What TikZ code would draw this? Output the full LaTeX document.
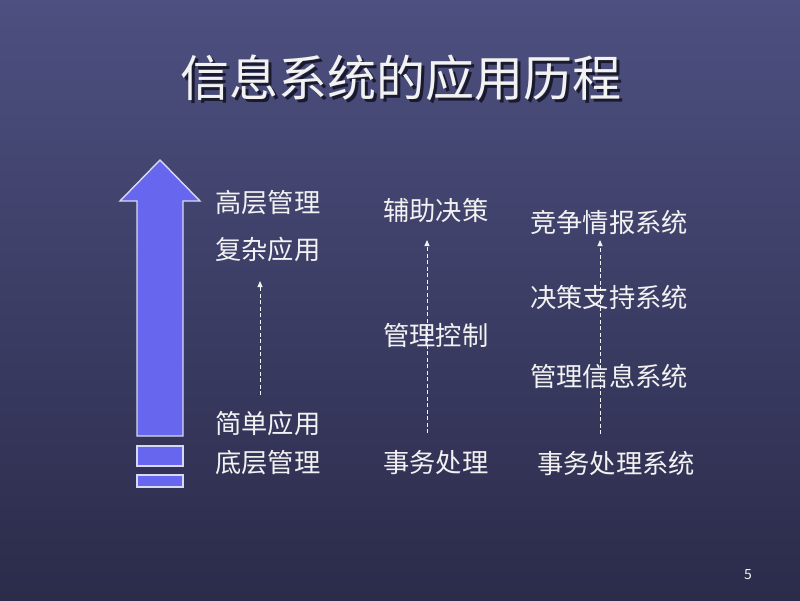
\documentclass[tikz,border=0pt]{standalone}
\usepackage{fontspec}
\setmainfont{Noto Sans CJK SC}
\newfontfamily\cjk{Noto Sans CJK SC}
\usetikzlibrary{arrows.meta}
\definecolor{bgtop}{HTML}{4D5080}
\definecolor{bgbot}{HTML}{2B2B4A}
\definecolor{arrowfill}{HTML}{6666EE}
\definecolor{arrowline}{HTML}{D8D8F0}
\definecolor{txt}{HTML}{F2F2F2}
\definecolor{shadowc}{HTML}{1A1A2E}
\tikzset{
  lbl/.style={anchor=west, inner sep=0pt, text=txt, font=\cjk\fontsize{26.3}{26.3}\selectfont},
  ttl/.style={inner sep=0pt, font=\cjk\fontsize{49}{49}\selectfont},
  dasharrow/.style={draw=txt, line width=0.9pt, dash pattern=on 4pt off 2.5pt, -{Triangle[length=6pt,width=5pt]}},
  bigarrow/.style={fill=arrowfill, draw=arrowline, line width=1.4pt},
}
\newcommand{\shadowtitle}[1]{\makebox[0pt][l]{\hspace{3pt}\raisebox{-3pt}{\color{shadowc}#1}}{\color{txt}#1}}
\begin{document}
\begin{tikzpicture}[x=1pt,y=-1pt]
\useasboundingbox (0,0) rectangle (800,600);
\shade[top color=bgtop, bottom color=bgbot] (0,0) rectangle (800,600);
% title
\node[ttl] (title) at (401,79) {\shadowtitle{信息系统的应用历程}};
% big arrow
\draw[bigarrow] (160,160) -- (200,201) -- (183,201) -- (183,436) -- (137,436) -- (137,201) -- (120,201) -- cycle;
\draw[bigarrow] (137,446) rectangle (183,466);
\draw[bigarrow] (137,475) rectangle (183,487);
% column 1
\node[lbl] (c1a) at (215,203) {高层管理};
\node[lbl] (c1b) at (215,249) {复杂应用};
\node[lbl] (c1c) at (215,423) {简单应用};
\node[lbl] (c1d) at (215,463) {底层管理};
\coordinate (c1s) at (260,395);
\coordinate (c1e) at (260,281);
\draw[dasharrow] (c1s) -- (c1e);
% column 2
\node[lbl] (c2a) at (383,210) {辅助决策};
\node[lbl] (c2b) at (383,335) {管理控制};
\node[lbl] (c2c) at (383,463) {事务处理};
\coordinate (c2s) at (427,433);
\coordinate (c2e) at (427,240);
\draw[dasharrow] (c2s) -- (c2e);
% column 3
\node[lbl] (c3a) at (530,222) {竞争情报系统};
\node[lbl] (c3b) at (530,297) {决策支持系统};
\node[lbl] (c3c) at (530,376) {管理信息系统};
\node[lbl] (c3d) at (537,463) {事务处理系统};
\coordinate (c3s) at (600,434);
\coordinate (c3e) at (600,240);
\draw[dasharrow] (c3s) -- (c3e);
% page number
\node[inner sep=0pt, text=txt, font=\fontsize{14}{14}\selectfont] (pg) at (748,575) {5};
\end{tikzpicture}
\end{document}
